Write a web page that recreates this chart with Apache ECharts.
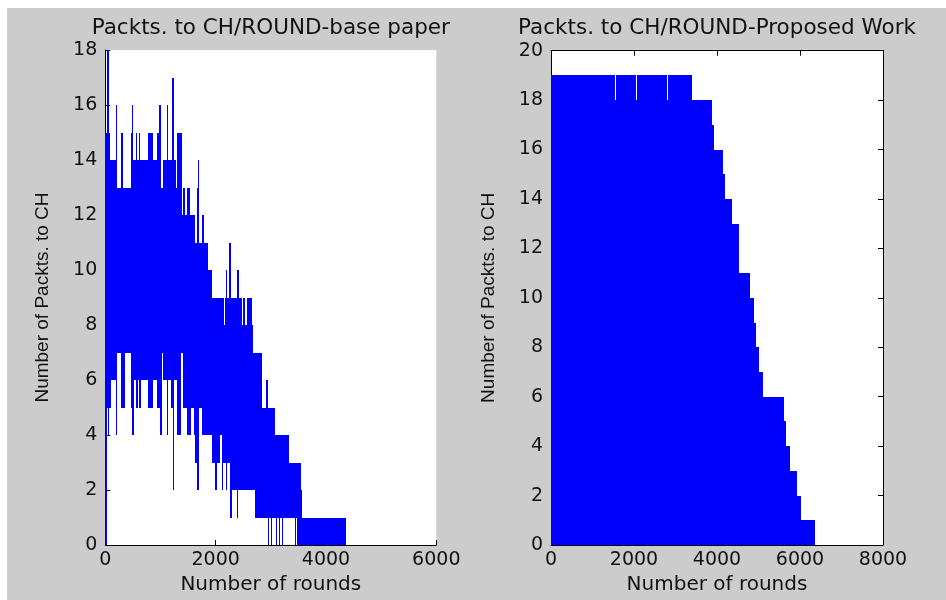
<!DOCTYPE html>
<html>
<head>
<meta charset="utf-8">
<title>Packts. to CH/ROUND</title>
<script src="https://cdn.jsdelivr.net/npm/echarts@6/dist/echarts.min.js"></script>
<style>
html, body { margin: 0; padding: 0; background: #fff; }
#main { position: absolute; left: 7px; top: 8px; width: 939px; height: 592px; background: #cccccc; }
</style>
</head>
<body>
<div id="main"></div>
<script>
// base paper: noisy line, kept as upper / lower envelope steps (round where the level starts, level)
var baseUpX = [0, 36, 70, 85, 194, 218, 291, 315, 460, 484, 510, 557, 575, 617, 635, 780, 859, 943, 975, 995, 1010, 1052,
    1112, 1143, 1203, 1233, 1282, 1306, 1378, 1415, 1445, 1487, 1535, 1608, 1656, 1680, 1700, 1747, 1789, 1868, 1928,
    2085, 2105, 2150, 2165, 2195, 2215, 2250, 2272, 2390, 2410, 2480, 2500, 2540, 2560, 2654, 2684, 2847, 2907, 2944,
    3077, 3336, 3545, 3572];
var baseUpV = [15, 18, 15, 14, 16, 13, 15, 13, 15, 16, 14, 15, 14, 15, 14, 15, 14, 15, 16, 15, 13, 14,
    16, 14, 17, 14, 13, 15, 12, 13, 12, 13, 12, 11, 13, 14, 11, 12, 11, 10, 9,
    8, 9, 8, 9, 10, 9, 11, 9, 10, 9, 8, 9, 8, 9, 8, 7, 5, 6, 5,
    4, 3, 2, 1];
var baseLoX = [0, 24, 55, 70, 96, 194, 218, 291, 351, 460, 490, 520, 557, 580, 617, 653, 780, 859, 943, 992, 1016, 1052,
    1112, 1143, 1185, 1221, 1245, 1306, 1366, 1402, 1487, 1560, 1600, 1626, 1656, 1686, 1747, 1928, 1988, 2019, 2079,
    2109, 2140, 2190, 2215, 2255, 2275, 2380, 2400, 2540, 2560, 2714, 2950, 2975, 3010, 3030, 3100, 3120, 3150, 3170,
    3210, 3230, 3440, 3460, 3474];
var baseLoV = [0, 5, 4, 5, 6, 4, 7, 5, 7, 5, 4, 6, 5, 6, 5, 6, 5, 6, 5, 4, 7, 6,
    4, 6, 5, 2, 6, 4, 7, 5, 4, 5, 4, 3, 2, 5, 4, 3, 2, 3, 4,
    2, 3, 2, 3, 1, 2, 1, 2, 2, 2, 1, 0, 1, 0, 1, 0, 1, 0, 1,
    0, 1, 0, 1, 0];
var baseEnd = 4358;

// proposed work: step levels
var propX = [0, 1540, 1564, 2055, 2079, 2800, 2824, 3398, 3880, 3920, 4137, 4185, 4361, 4530, 4795, 4884, 4932, 5012,
    5100, 5622, 5663, 5759, 5928, 6024];
var propV = [19, 18, 19, 18, 19, 18, 19, 18, 17, 16, 15, 14, 13, 11, 10, 9, 8, 7,
    6, 5, 4, 3, 2, 1];
var propEnd = 6369;

var baseXMax = 6000, baseYMax = 18;
var propXMax = 8000, propYMax = 20;
var xStep = 2000, yStep = 2;

var titles = ['Packts. to CH/ROUND-base paper', 'Packts. to CH/ROUND-Proposed Work'];
var xName = 'Number of rounds';
var yName = 'Number of Packts. to CH';

var fontMain = 'DejaVu Sans';
var ink = '#111';
var blue = '#0000ff';

function stepValue(xs, vs, x) {
    var v = vs[0];
    for (var i = 0; i < xs.length; i++) {
        if (xs[i] <= x) v = vs[i];
    }
    return v;
}

// [x0, x1, low, high] blocks
function buildBand(upX, upV, loX, loV, end) {
    var cuts = upX.concat(loX).filter(function (x, i, a) { return a.indexOf(x) === i; });
    cuts.sort(function (a, b) { return a - b; });
    cuts.push(end);
    var out = [];
    for (var i = 0; i < cuts.length - 1; i++) {
        if (cuts[i + 1] <= cuts[i]) continue;
        out.push([cuts[i], cuts[i + 1], stepValue(loX, loV, cuts[i]), stepValue(upX, upV, cuts[i])]);
    }
    return out;
}

// snapped to whole pixels so neighbouring blocks leave no seams
function renderBand(params, api) {
    var p0 = api.coord([api.value(0), api.value(3)]);
    var p1 = api.coord([api.value(1), api.value(2)]);
    var x0 = Math.round(p0[0]);
    var x1 = Math.max(Math.round(p1[0]), x0 + 1);
    var y0 = Math.round(p0[1]);
    var y1 = Math.round(p1[1]);
    return {
        type: 'rect',
        shape: { x: x0, y: y0, width: x1 - x0, height: y1 - y0 },
        style: { fill: blue }
    };
}

function axis(gridIndex, max, pos, labels, extra) {
    var a = {
        type: 'value', gridIndex: gridIndex, position: pos, min: 0, max: max,
        interval: (pos == 'left' || pos == 'right') ? yStep : xStep,
        axisLine: { show: true, onZero: false, lineStyle: { color: '#000', width: 1 } },
        axisTick: { show: true, inside: true, length: 5, lineStyle: { color: '#000', width: 1 } },
        axisLabel: {
            show: labels, color: ink, fontFamily: fontMain, fontSize: 19, margin: (pos == 'left') ? 8 : 6,
            formatter: function (v) { return String(v); }
        },
        splitLine: { show: false }
    };
    for (var k in extra) a[k] = extra[k];
    return a;
}

var xNameOpt = {
    name: xName, nameLocation: 'middle', nameGap: 30,
    nameTextStyle: { color: ink, fontFamily: fontMain, fontSize: 20 }
};
var yNameOpt = {
    name: yName, nameLocation: 'middle', nameGap: 53,
    nameTextStyle: { color: ink, fontFamily: 'Liberation Sans', fontSize: 19 }
};

var chart = echarts.init(document.getElementById('main'));
var option = {
    backgroundColor: 'transparent',
    animation: false,
    graphic: [
        { type: 'text', x: 263.8, y: 20, style: { text: titles[0], fill: ink, fontFamily: fontMain, fontSize: 21.5, align: 'center', verticalAlign: 'middle' } },
        { type: 'text', x: 710, y: 20, style: { text: titles[1], fill: ink, fontFamily: fontMain, fontSize: 21.5, align: 'center', verticalAlign: 'middle' } }
    ],
    grid: [
        { left: 98.3, top: 42, width: 331, height: 495, show: true, backgroundColor: '#fff', borderWidth: 0 },
        { left: 544, top: 42.7, width: 332, height: 495, show: true, backgroundColor: '#fff', borderWidth: 0 }
    ],
    xAxis: [
        axis(0, baseXMax, 'bottom', true, xNameOpt),
        axis(1, propXMax, 'bottom', true, xNameOpt),
        axis(1, propXMax, 'top', false, {})
    ],
    yAxis: [
        axis(0, baseYMax, 'left', true, yNameOpt),
        axis(1, propYMax, 'left', true, yNameOpt),
        axis(1, propYMax, 'right', false, {})
    ],
    series: [
        {
            type: 'custom', xAxisIndex: 0, yAxisIndex: 0,
            renderItem: renderBand, encode: { x: [0, 1], y: [2, 3] },
            data: buildBand(baseUpX, baseUpV, baseLoX, baseLoV, baseEnd)
        },
        {
            type: 'custom', xAxisIndex: 1, yAxisIndex: 1,
            renderItem: renderBand, encode: { x: [0, 1], y: [2, 3] },
            data: buildBand(propX, propV, [0], [0], propEnd)
        }
    ]
};
chart.setOption(option);
</script>
</body>
</html>
